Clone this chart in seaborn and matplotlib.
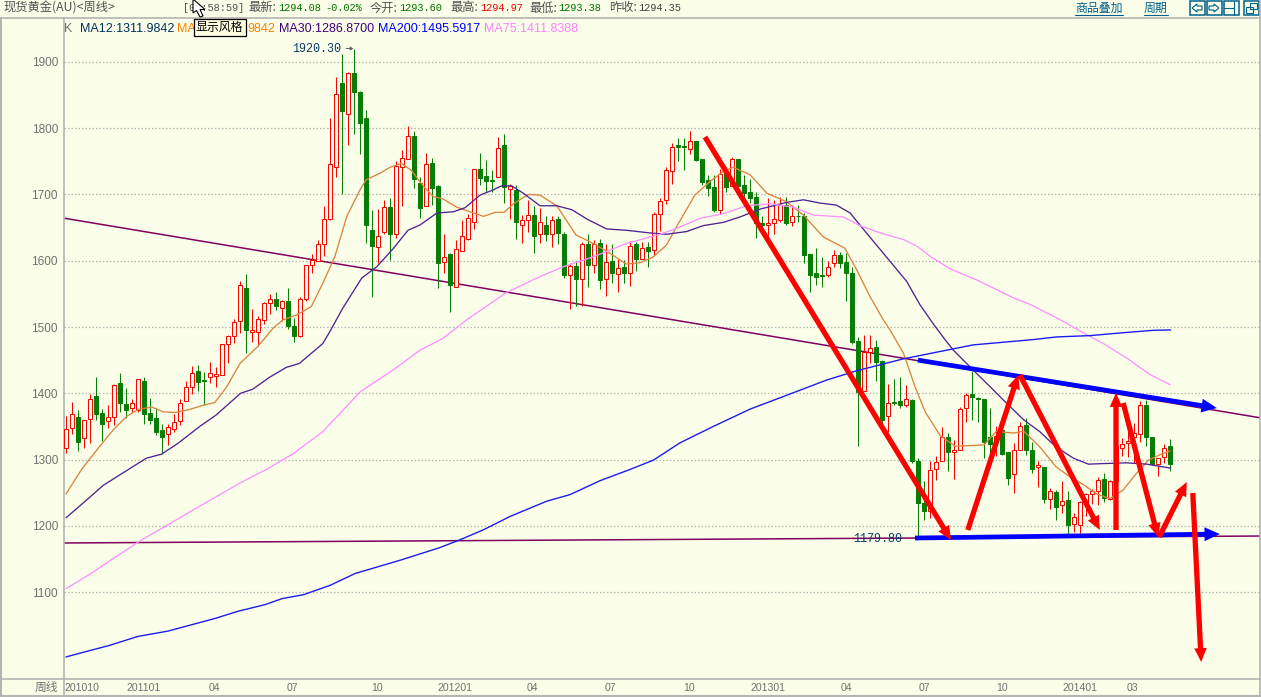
# -*- coding: utf-8 -*-
import matplotlib
matplotlib.use("Agg")
import matplotlib.pyplot as plt
from matplotlib.lines import Line2D
from matplotlib.patches import Polygon, Rectangle
import seaborn as sns

## weekly candles, prices
opens = [
    1317, 1348, 1364, 1332, 1361, 1396, 1370, 1358, 1364, 1415,
    1384, 1377, 1375, 1419, 1370, 1363, 1345, 1338, 1346, 1358,
    1389, 1409, 1434, 1420, 1424, 1426, 1427, 1474, 1486, 1509,
    1559, 1492, 1493, 1511, 1536, 1543, 1528, 1539, 1502, 1486,
    1543, 1593, 1599, 1626, 1663, 1741, 1868, 1821, 1883, 1855,
    1816, 1646, 1620, 1643, 1681, 1641, 1741, 1753, 1788, 1718,
    1683, 1747, 1713, 1598, 1610, 1560, 1614, 1633, 1658, 1738,
    1728, 1722, 1726, 1774, 1709, 1707, 1654, 1661, 1669, 1641,
    1654, 1641, 1663, 1640, 1579, 1592, 1573, 1625, 1593, 1627,
    1572, 1600, 1580, 1591, 1581, 1625, 1603, 1621, 1616, 1670,
    1691, 1735, 1775, 1773, 1769, 1781, 1754, 1722, 1711, 1676,
    1735, 1713, 1754, 1714, 1704, 1696, 1657, 1654, 1657, 1661,
    1684, 1658, 1668, 1668, 1610, 1581, 1579, 1578, 1596, 1609,
    1598, 1581, 1479, 1404, 1463, 1470, 1448, 1365, 1387, 1389,
    1383, 1390, 1298, 1234, 1222, 1285, 1297, 1334, 1312, 1315,
    1378, 1399, 1393, 1391, 1334, 1327, 1345, 1311, 1278, 1315,
    1352, 1314, 1289, 1289, 1240, 1251, 1231, 1239, 1202, 1201,
    1236, 1248, 1252, 1271, 1241, 1268, 1318, 1325, 1334, 1339,
    1382, 1334, 1293, 1304, 1320,
]
closes = [
    1346, 1368, 1327, 1359, 1392, 1368, 1353, 1364, 1412, 1386,
    1375, 1385, 1421, 1368, 1360, 1342, 1334, 1349, 1356, 1386,
    1410, 1430, 1417, 1418, 1430, 1429, 1474, 1486, 1507, 1563,
    1495, 1495, 1512, 1536, 1542, 1531, 1539, 1502, 1487, 1543,
    1593, 1601, 1626, 1663, 1746, 1851, 1826, 1883, 1854, 1808,
    1654, 1623, 1637, 1681, 1641, 1743, 1755, 1788, 1723, 1679,
    1746, 1710, 1597, 1606, 1564, 1617, 1638, 1665, 1738, 1725,
    1721, 1720, 1770, 1712, 1713, 1659, 1661, 1669, 1638, 1658,
    1641, 1661, 1642, 1579, 1592, 1572, 1625, 1593, 1626, 1571,
    1598, 1582, 1589, 1582, 1623, 1603, 1619, 1615, 1670, 1690,
    1737, 1771, 1772, 1771, 1780, 1752, 1719, 1710, 1677, 1731,
    1712, 1753, 1713, 1702, 1694, 1657, 1654, 1657, 1663, 1684,
    1657, 1667, 1667, 1608, 1579, 1575, 1577, 1591, 1608, 1597,
    1581, 1477, 1402, 1462, 1469, 1447, 1359, 1386, 1386, 1383,
    1391, 1297, 1235, 1222, 1284, 1296, 1334, 1312, 1314, 1376,
    1397, 1395, 1391, 1327, 1323, 1336, 1309, 1272, 1315, 1351,
    1314, 1286, 1291, 1240, 1252, 1229, 1238, 1201, 1213, 1236,
    1248, 1253, 1269, 1242, 1267, 1320, 1324, 1328, 1340, 1382,
    1334, 1293, 1303, 1318, 1293,
]
highs = [
    1366, 1387, 1375, 1360, 1399, 1425, 1376, 1382, 1414, 1431,
    1408, 1392, 1422, 1425, 1393, 1377, 1354, 1354, 1369, 1391,
    1419, 1441, 1443, 1432, 1447, 1439, 1475, 1488, 1512, 1570,
    1580, 1527, 1517, 1538, 1550, 1553, 1541, 1559, 1514, 1545,
    1594, 1610, 1632, 1683, 1815, 1878, 1912, 1885, 1920.3, 1856,
    1828, 1677, 1678, 1692, 1695, 1751, 1767, 1803, 1796, 1727,
    1763, 1755, 1714, 1641, 1611, 1631, 1661, 1671, 1739, 1763,
    1752, 1737, 1787, 1791, 1716, 1714, 1669, 1692, 1682, 1680,
    1667, 1667, 1668, 1643, 1597, 1600, 1629, 1640, 1631, 1633,
    1625, 1625, 1602, 1601, 1630, 1629, 1628, 1628, 1674, 1694,
    1741, 1777, 1786, 1785, 1796, 1781, 1754, 1730, 1730, 1738,
    1742, 1756, 1754, 1730, 1724, 1704, 1668, 1694, 1692, 1696,
    1696, 1684, 1684, 1672, 1610, 1619, 1606, 1600, 1616, 1613,
    1611, 1591, 1485, 1488, 1488, 1480, 1450, 1414, 1421, 1424,
    1412, 1392, 1302, 1267, 1298, 1305, 1349, 1340, 1330, 1380,
    1400, 1433, 1395, 1392, 1377, 1350, 1352, 1311, 1325, 1356,
    1362, 1326, 1297, 1289, 1257, 1254, 1267, 1253, 1220, 1238,
    1249, 1255, 1274, 1279, 1269, 1325, 1332, 1355, 1355, 1389,
    1390, 1334, 1303, 1324, 1331,
]
lows = [
    1310, 1339, 1313, 1318, 1325, 1359, 1328, 1348, 1352, 1371,
    1362, 1372, 1372, 1353, 1354, 1337, 1308, 1322, 1342, 1352,
    1389, 1399, 1403, 1382, 1416, 1410, 1427, 1445, 1476, 1491,
    1461, 1478, 1471, 1504, 1519, 1525, 1509, 1497, 1478, 1485,
    1540, 1581, 1599, 1607, 1662, 1727, 1701, 1775, 1791, 1761,
    1627, 1545, 1596, 1641, 1601, 1635, 1682, 1753, 1710, 1665,
    1682, 1684, 1559, 1582, 1522, 1560, 1614, 1631, 1648, 1714,
    1704, 1704, 1726, 1687, 1663, 1633, 1627, 1644, 1611, 1627,
    1630, 1620, 1626, 1574, 1527, 1532, 1531, 1561, 1582, 1558,
    1547, 1566, 1553, 1567, 1562, 1584, 1603, 1590, 1609, 1645,
    1685, 1716, 1751, 1737, 1761, 1751, 1714, 1698, 1673, 1671,
    1704, 1713, 1713, 1687, 1687, 1635, 1644, 1636, 1640, 1659,
    1654, 1652, 1658, 1597, 1553, 1563, 1560, 1575, 1591, 1589,
    1539, 1474, 1321, 1403, 1445, 1419, 1345, 1342, 1383, 1377,
    1379, 1295, 1179.8, 1208, 1211, 1269, 1297, 1282, 1271, 1315,
    1357, 1359, 1357, 1303, 1290, 1305, 1307, 1262, 1250, 1315,
    1307, 1280, 1259, 1235, 1226, 1209, 1219, 1186, 1191, 1189,
    1214, 1233, 1231, 1236, 1239, 1260, 1305, 1304, 1294, 1327,
    1320, 1292, 1275, 1294, 1283,
]

## moving averages, (week index, price) read at the bends
ma_orange_x = [
    0, 2.6, 5.1, 7.9, 10.1, 12.1, 14.3, 16.2, 18.2, 20.4, 22.9, 24.8, 26.8, 29, 32, 34.5,
    36.2, 38.4, 40.9, 42.8, 44.8, 46.8, 49, 50, 52.3, 54, 55.9, 57.6, 59.6, 61.2, 62.9,
    65.1, 67.3, 69.6, 71.5, 73, 74.6, 77, 79, 81.8, 85, 87.9, 90.7, 93.4, 95.7, 97.9,
    100.1, 101.8, 104.8, 107.4, 109.6, 111.2, 114, 116.8, 120.1, 122.9, 126.2, 129.8,
    131.8, 134, 136.2, 137.3, 139.6, 141.5, 143.2, 145.7, 148.2, 153, 155, 158, 159.6,
    162.3, 165, 167.3, 169.6, 171.8, 174, 176.2, 178.4, 180.4, 182.3, 184,
]
ma_orange_y = [
    1248, 1285, 1314, 1345, 1365, 1376, 1379, 1372, 1371, 1375, 1382, 1386, 1410, 1445, 1471, 1498,
    1511, 1518, 1531, 1566, 1606, 1667, 1707, 1722, 1732, 1741, 1747, 1736, 1712, 1697, 1693,
    1681, 1674, 1667, 1673, 1673, 1686, 1700, 1699, 1683, 1639, 1626, 1611, 1595, 1597, 1606,
    1624, 1652, 1699, 1720, 1735, 1741, 1730, 1702, 1689, 1669, 1636, 1619,
    1586, 1546, 1511, 1496, 1460, 1410, 1372, 1336, 1320, 1322, 1342, 1340, 1343,
    1319, 1289, 1274, 1262, 1248, 1241, 1254, 1279, 1299, 1307, 1313,
]
ma30_x = [
    0, 3.2, 6.2, 10.4, 13.4, 15.9, 18.6, 22.3, 25, 29.1, 31.1, 33.9, 36.7, 38.9, 42.8,
    44.1, 46.1, 49.3, 51.8, 54.6, 57, 59, 61.8, 64.6, 66.5, 69, 71.2, 72.6, 74.3, 76.2,
    79, 81.8, 84.3, 87, 90.1, 93.4, 97.3, 100.1, 103.4, 106.2, 109.6, 112.3, 115.7,
    120.1, 122.9, 125.7, 128.4, 130.7, 132.3, 135.7, 140.1, 142.3, 144.6, 146.5, 147.9,
    151.2, 154, 156.2, 159.6, 162.3, 165, 167.9, 170.4, 173.4, 176.7, 180.1, 184.1,
]
ma30_y = [
    1212, 1237, 1261, 1285, 1302, 1308, 1324, 1350, 1367, 1400, 1406, 1424, 1439, 1445, 1475,
    1495, 1528, 1574, 1591, 1619, 1646, 1654, 1672, 1674, 1680, 1699, 1707, 1713, 1713, 1702,
    1683, 1683, 1677, 1662, 1648, 1646, 1642, 1640, 1644, 1653, 1658, 1666, 1678,
    1688, 1692, 1687, 1684, 1672, 1654, 1617, 1569, 1534, 1504, 1481, 1465,
    1435, 1410, 1390, 1360, 1342, 1319, 1302, 1293, 1294, 1295, 1293, 1287,
]
ma200_x = [
    0, 3.7, 7.1, 12, 17, 24.8, 28.7, 33.2, 36, 39.6, 44, 48.2, 51.2, 55.7, 62.3, 65.7,
    69.6, 74, 80.1, 84, 89, 94, 97.9, 102.3, 107.9, 114, 120.7, 126.8, 131.8, 139.6,
    144, 151.2, 161.2, 165.1, 170.7, 175.7, 181.2, 184.1,
]
ma200_y = [
    1002, 1011, 1019, 1033, 1041, 1060, 1071, 1081, 1090, 1096, 1110, 1128, 1136, 1148, 1167, 1179,
    1194, 1214, 1237, 1247, 1268, 1285, 1299, 1325, 1350, 1376, 1399, 1420, 1434, 1452,
    1460, 1473, 1481, 1485, 1487, 1491, 1495, 1495.6,
]
ma75_x = [
    0, 4, 7.6, 12.3, 17.1, 21.2, 26, 29.3, 33.4, 37.9, 42.8, 45.7, 49, 54, 59, 62.7, 66.8,
    73.4, 79, 82.9, 87.9, 93.4, 99, 101.8, 105.7, 109.6, 113.4, 117.3, 121.2, 124.5,
    129.6, 132.3, 135.7, 139.6, 141.8, 144, 147.3, 151.8, 157.9, 160.7, 165.7, 169,
    172.9, 176.8, 180.7, 184,
]
ma75_y = [
    1105, 1127, 1149, 1177, 1202, 1224, 1249, 1266, 1285, 1309, 1342, 1370, 1402, 1432, 1465, 1482, 1511,
    1552, 1576, 1591, 1606, 1626, 1640, 1649, 1664, 1671, 1683, 1686, 1681, 1669,
    1666, 1653, 1642, 1632, 1622, 1607, 1588, 1571, 1544, 1534, 1511, 1494,
    1475, 1453, 1428, 1413,
]

## straight trend lines
trend_upper_x = [-0.5, 199]
trend_upper_y = [1664.5, 1363]
trend_lower_x = [-0.5, 199]
trend_lower_y = [1174, 1184.5]

## hand drawn arrows: week0, price0, week1, price1
red_arrows = [
    (106.5, 1786.8, 147.5, 1178.5),
    (150.3, 1193.6, 158.7, 1427.5),
    (159, 1427.5, 172.3, 1193.6),
    (175, 1193.6, 175, 1400.4),
    (176.2, 1385.3, 182, 1183),
    (182.2, 1183, 186.8, 1266),
    (187.8, 1249.4, 189.2, 994.3),
]
blue_arrows = [
    (142, 1450, 191.8, 1377.7),
    (141.5, 1181.5, 192.3, 1187.5),
]

y_ticks = [1100, 1200, 1300, 1400, 1500, 1600, 1700, 1800, 1900]
x_ticks = [2.7, 12.9, 24.8, 37.8, 51.8, 64.8, 77.8, 90.8, 103.8, 117, 130, 143, 156, 169, 177.8]
x_labels = ["201010", "201101", "04", "07", "10", "201201", "04", "07", "10",
            "201301", "04", "07", "10", "201401", "03"]

BG = "#FBFFE9"
GREY = "#B4B4B0"
RED = "#FF0000"
GREEN = "#067E06"
NAVY = "#0A3A66"
TEAL = "#00608C"
CJK = ["Noto Sans CJK SC", "DejaVu Sans"]

sns.set_theme(style="white")
plt.rcParams["font.family"] = ["Liberation Sans", "Noto Sans CJK SC", "DejaVu Sans"]

W, H = 1261, 697
fig = plt.figure(figsize=(W / 100, H / 100), dpi=100, facecolor=BG)
ax = fig.add_axes([63.5 / W, 1 - 679 / H, (1260 - 63.5) / W, (679 - 18) / H], facecolor=BG)


def px(x, y):
    return x / W, 1 - y / H


def header(x, y, s, color, **kw):
    fx, fy = px(x, y)
    kw.setdefault("fontsize", 8.8)
    kw.setdefault("family", CJK)
    fig.text(fx, fy, s, color=color, ha="left", va="center", **kw)


def fig_line(xs, ys, color=GREY, lw=1.2):
    fig.add_artist(Line2D([x / W for x in xs], [1 - y / H for y in ys], color=color, lw=lw))


## grid
ax.set_yticks(y_ticks)
ax.set_xticks(x_ticks)
ax.set_xticklabels(x_labels)
ax.grid(False)
for t in y_ticks:
    ax.axhline(t, color=GREY, lw=0.9, ls=(0, (1.2, 1.6)), zorder=1)

## trend lines
sns.lineplot(x=trend_upper_x, y=trend_upper_y, ax=ax, color="#800060", lw=1.1, zorder=2)
sns.lineplot(x=trend_lower_x, y=trend_lower_y, ax=ax, color="#800060", lw=1.1, zorder=2)

## candles
weeks = list(range(len(opens)))
colors = [RED if c > o else GREEN for o, c in zip(opens, closes)]
ax.vlines(weeks, lows, highs, colors=colors, lw=0.72, zorder=3)
for w, o, c, col in zip(weeks, opens, closes, colors):
    if col == RED:
        ax.bar(w, c - o, bottom=o, width=0.667, facecolor=BG, edgecolor=RED, lw=0.72, zorder=4)
    else:
        ax.bar(w, o - c, bottom=c, width=0.667, facecolor=GREEN, edgecolor=GREEN, lw=0.72, zorder=4)

## moving averages
sns.lineplot(x=ma_orange_x, y=ma_orange_y, ax=ax, color="#D8853E", lw=0.95, zorder=5)
sns.lineplot(x=ma30_x, y=ma30_y, ax=ax, color="#4F2396", lw=0.95, zorder=5)
sns.lineplot(x=ma75_x, y=ma75_y, ax=ax, color="#FF90FF", lw=0.95, zorder=5)
sns.lineplot(x=ma200_x, y=ma200_y, ax=ax, color="#1C1CF0", lw=1.0, zorder=5)

## max / min labels
ax.annotate("1920.30", xy=(47.9, 1920.3), xytext=(45.9, 1920.3), color=NAVY, fontsize=8.5,
            ha="right", va="center", family="Liberation Mono", zorder=6,
            arrowprops=dict(arrowstyle="-|>,head_length=0.2,head_width=0.12", color="#606060", lw=0.7,
                            shrinkA=1, shrinkB=0))
ax.text(139.4, 1179.8, "1179.80", color=NAVY, fontsize=8.5, ha="right", va="center",
        family="Liberation Mono", zorder=6)

## hand drawn arrows
for x0, y0, x1, y1 in blue_arrows:
    ax.annotate("", xy=(x1, y1), xytext=(x0, y0), zorder=7,
                arrowprops=dict(arrowstyle="simple,head_length=1.1,head_width=1.0,tail_width=0.34",
                                mutation_scale=10, facecolor="#0000FF", edgecolor="#0000FF", lw=0,
                                shrinkA=0, shrinkB=0))
for x0, y0, x1, y1 in red_arrows:
    ax.annotate("", xy=(x1, y1), xytext=(x0, y0), zorder=8,
                arrowprops=dict(arrowstyle="simple,head_length=1.0,head_width=0.9,tail_width=0.38",
                                mutation_scale=10, facecolor=RED, edgecolor=RED, lw=0,
                                shrinkA=0, shrinkB=0))

## axes
ax.set_xlim(-0.417, 199)
ax.set_ylim(968.7, 1966.4)
ax.set_xlabel("")
ax.set_ylabel("")
for name in ["left", "bottom", "top"]:
    ax.spines[name].set_color(GREY)
    ax.spines[name].set_linewidth(1.2)
ax.spines["right"].set_visible(False)
ax.tick_params(axis="y", length=0, pad=4, labelsize=8.5, labelcolor="#707070")
ax.tick_params(axis="x", length=0, pad=3, labelsize=7.6, labelcolor="#707070")

## frame round the window
fig_line([1, 1], [18, 696], lw=1.5)
fig_line([0, 63.5], [18, 18])
fig_line([0, W], [695.5, 695.5], lw=1.5)
fig_line([1260.3, 1260.3], [0, 696], lw=1.2)
fig_line([0, 63.5], [679, 679])
fig_line([63.5, 63.5], [679, 696])

## header row
header(3, 8, "现货黄金(AU)<周线>", "#505050")
header(183, 8, "[04:58:59]", "#505050", family="Liberation Mono", fontsize=7.4)
for x, s in [(248, "最新:"), (370, "今开:"), (450, "最高:"), (529, "最低:"), (609, "昨收:")]:
    header(x, 8, s, "#505050")
for x, s, col in [(278, "1294.08", "#007000"), (325, "-0.02%", "#007000"), (399, "1293.60", "#007000"),
                  (480, "1294.97", "#F00000"), (558, "1293.38", "#007000"), (638, "1294.35", "#404040")]:
    header(x, 8, s, col, family="Liberation Mono", fontsize=7.4)

## MA legend row, the orange entry is hidden behind the tooltip
header(64, 29, "K", "#707070", family="Liberation Sans", fontsize=9)
for x, s, col in [(80, "MA12:1311.9842", "#003060"), (176.5, "MA", "#FF8000"), (247, "9842", "#FF8000"),
                  (279, "MA30:1286.8700", "#400080"), (378, "MA200:1495.5917", "#0000FF"),
                  (484, "MA75:1411.8388", "#FF80FF")]:
    header(x, 29, s, col, family="Liberation Sans", fontsize=9)

## y axis corner label
header(35, 687, "周线", "#707070", fontsize=8.5)

## top right links
header(1075, 8, "商品叠加", TEAL, fontsize=8.6)
header(1144, 8, "周期", TEAL, fontsize=8.6)
fig_line([1075, 1123], [15, 15], color=TEAL, lw=0.8)
fig_line([1144, 1168], [15, 15], color=TEAL, lw=0.8)

## window buttons
for x0 in [1189.5, 1206.5, 1223.5]:
    fig.add_artist(Rectangle(px(x0, 15), 15 / W, 14 / H, fill=False, edgecolor=TEAL, lw=1.1))
fig.add_artist(Polygon([px(*p) for p in [(1192, 8), (1197, 4), (1197, 6), (1202, 6), (1202, 10), (1197, 10), (1197, 12)]],
                       fill=False, edgecolor=TEAL, lw=0.8))
fig.add_artist(Polygon([px(*p) for p in [(1219, 8), (1214, 4), (1214, 6), (1209, 6), (1209, 10), (1214, 10), (1214, 12)]],
                       fill=False, edgecolor=TEAL, lw=0.8))
fig_line([1223.5, 1234], [8, 8], color=TEAL, lw=0.8)
fig_line([1234, 1234], [1, 15], color=TEAL, lw=0.8)
fig.add_artist(Rectangle(px(1243.5, 15), 15 / W, 14 / H, fill=False, edgecolor=TEAL, lw=1.1))
fig.add_artist(Rectangle(px(1245.5, 13), 7 / W, 6 / H, fill=False, edgecolor=TEAL, lw=0.8))
fig.add_artist(Rectangle(px(1249.5, 9), 7 / W, 6 / H, fill=False, edgecolor=TEAL, lw=0.8))

## tooltip and mouse cursor on top of everything
fig.add_artist(Rectangle(px(193.5, 36), 52 / W, 17 / H, facecolor="#FFFFE1", edgecolor="black", lw=0.9, zorder=20))
fig.text(*px(219.5, 27.5), "显示风格", family=CJK, fontsize=8.6, color="black", ha="center", va="center", zorder=21)
cursor = [(193, -1), (193, 13), (196.5, 10.5), (200, 17), (203, 16), (200, 9.5), (205, 9.5)]
fig.add_artist(Polygon([px(*p) for p in cursor], facecolor="white", edgecolor="black", lw=0.8, zorder=22))

fig.savefig("out.png", dpi=100, facecolor=BG)
